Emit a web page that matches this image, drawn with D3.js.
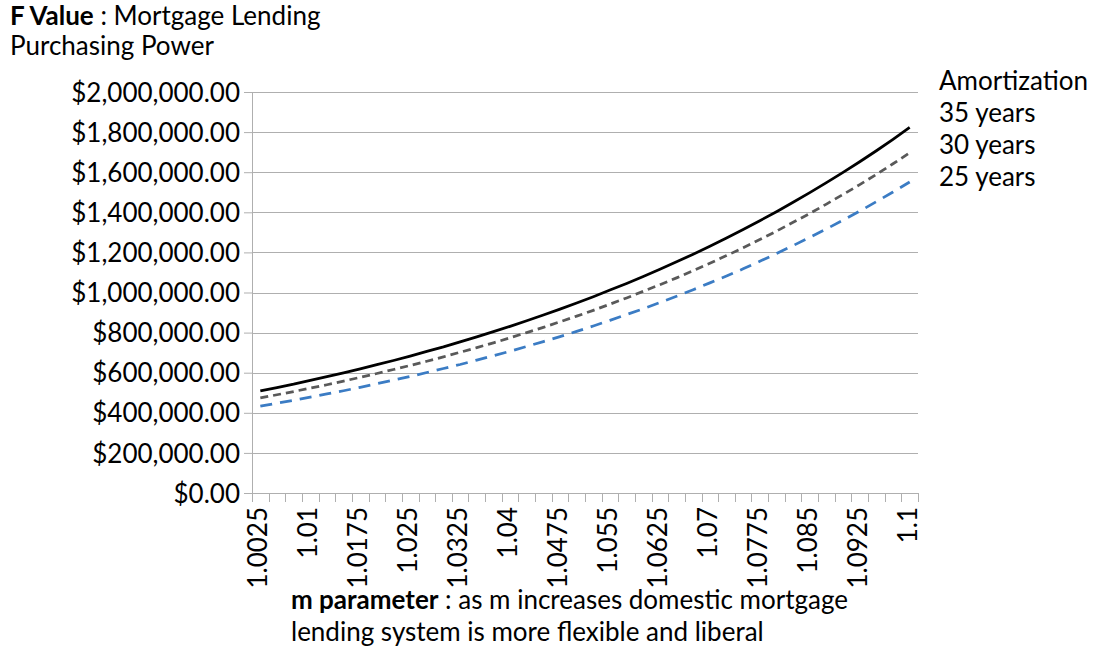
<!DOCTYPE html>
<html>
<head>
<meta charset="utf-8">
<script src="https://cdn.jsdelivr.net/npm/d3@7"></script>
<style>
  body { margin: 0; background: #fff; }
  text { font-family: Lato, "Open Sans", sans-serif; fill: #000; }
</style>
</head>
<body>
<div id="chart"></div>
<script>
// m parameter categories
const mValues = ["1.0025","1.005","1.0075","1.01","1.0125","1.015","1.0175","1.02","1.0225","1.025",
                 "1.0275","1.03","1.0325","1.035","1.0375","1.04","1.0425","1.045","1.0475","1.05",
                 "1.0525","1.055","1.0575","1.06","1.0625","1.065","1.0675","1.07","1.0725","1.075",
                 "1.0775","1.08","1.0825","1.085","1.0875","1.09","1.0925","1.095","1.0975","1.1"];

// F value per amortization period
const years35 = [509000, 526000, 543000, 562000, 580000, 599000, 619000, 640000, 661000, 683000,
                 706000, 729000, 754000, 779000, 805000, 831000, 859000, 888000, 917000, 948000,
                 979000, 1012000, 1045000, 1080000, 1116000, 1153000, 1191000, 1231000, 1272000, 1314000,
                 1358000, 1403000, 1450000, 1498000, 1548000, 1599000, 1652000, 1707000, 1764000, 1823000];
const years30 = [474000, 490000, 506000, 523000, 540000, 558000, 577000, 596000, 616000, 636000,
                 657000, 679000, 702000, 725000, 749000, 774000, 800000, 826000, 854000, 882000,
                 911000, 942000, 973000, 1006000, 1039000, 1073000, 1109000, 1146000, 1184000, 1223000,
                 1264000, 1306000, 1350000, 1394000, 1441000, 1489000, 1538000, 1589000, 1642000, 1697000];
const years25 = [433000, 448000, 462000, 478000, 494000, 510000, 527000, 545000, 563000, 581000,
                 601000, 621000, 641000, 663000, 685000, 707000, 731000, 755000, 780000, 806000,
                 833000, 861000, 890000, 919000, 950000, 981000, 1014000, 1048000, 1082000, 1118000,
                 1156000, 1194000, 1234000, 1275000, 1317000, 1361000, 1406000, 1453000, 1501000, 1551000];

const yTicks = [0, 200000, 400000, 600000, 800000, 1000000, 1200000, 1400000, 1600000, 1800000, 2000000];
const legendLabels = ["Amortization", "35 years", "30 years", "25 years"];

const series = [
    { name: "35 years", values: years35, color: "#000000", dash: null },
    { name: "30 years", values: years30, color: "#595959", dash: "8,5" },
    { name: "25 years", values: years25, color: "#3b7cc4", dash: "12,8" }
];

// chart dimensions
const W = 1093, H = 653;
const margin = { top: 92, right: 175, bottom: 160, left: 252 },
      width = W - margin.left - margin.right,
      height = H - margin.top - margin.bottom;

const fontSize = "26px";

const root = d3.select("#chart").append("svg")
    .attr("width", W)
    .attr("height", H);

const svg = root.append("g")
    .attr("transform", "translate(" + margin.left + "," + margin.top + ")");

// scales
const x = d3.scaleBand().domain(mValues).range([0, width]).padding(0);
const y = d3.scaleLinear().domain([0, 2000000]).range([height, 0]);

const gridColor = "#afafaf";

// horizontal gridlines
svg.append("g")
    .selectAll("line")
    .data(yTicks.filter(d => d > 0))
    .enter()
    .append("line")
    .attr("x1", 0)
    .attr("x2", width)
    .attr("y1", d => Math.round(y(d)) + 0.5)
    .attr("y2", d => Math.round(y(d)) + 0.5)
    .attr("stroke", gridColor)
    .attr("stroke-width", 1);

// y axis
const yAxis = svg.append("g")
    .call(d3.axisLeft(y).tickValues(yTicks).tickSize(8).tickPadding(4).tickFormat(d3.format("$,.2f")));
yAxis.select(".domain").attr("stroke", gridColor).attr("d", `M0.5,${height}V0`);
yAxis.selectAll(".tick line").attr("stroke", gridColor);
yAxis.selectAll(".tick text").style("font-size", fontSize).attr("dy", "0.35em");

// x axis: ticks sit between categories
const xAxisG = svg.append("g").attr("transform", "translate(0," + height + ")");
xAxisG.append("line")
    .attr("x1", -8).attr("x2", width)
    .attr("y1", 0.5).attr("y2", 0.5)
    .attr("stroke", gridColor);
xAxisG.selectAll(".xtick")
    .data(mValues.map(d => x(d)).concat([width]))
    .enter()
    .append("line")
    .attr("class", "xtick")
    .attr("x1", d => Math.round(d) + 0.5)
    .attr("x2", d => Math.round(d) + 0.5)
    .attr("y1", 0)
    .attr("y2", 9)
    .attr("stroke", gridColor);

// labels on every third category
xAxisG.selectAll(".xlabel")
    .data(mValues.filter((d, i) => i % 3 === 0))
    .enter()
    .append("text")
    .attr("class", "xlabel")
    .attr("transform", d => `translate(${x(d) + x.bandwidth() / 2 + 7},14) rotate(-90)`)
    .attr("text-anchor", "end")
    .style("font-size", fontSize)
    .text(d => d);

// lines
const line = d3.line()
    .x((d, i) => x(mValues[i]) + x.bandwidth() / 2)
    .y(d => y(d));

svg.selectAll(".series")
    .data(series)
    .enter()
    .append("path")
    .attr("class", "series")
    .attr("fill", "none")
    .attr("stroke", d => d.color)
    .attr("stroke-width", 2.75)
    .attr("stroke-dasharray", d => d.dash)
    .attr("d", d => line(d.values));

// legend (text only)
root.append("g")
    .selectAll("text")
    .data(legendLabels)
    .enter()
    .append("text")
    .attr("x", 939)
    .attr("y", (d, i) => 90 + i * 32)
    .style("font-size", fontSize)
    .text(d => d);

// y title
const yTitle = root.append("text").attr("x", 10).attr("y", 25).style("font-size", fontSize);
yTitle.append("tspan").style("font-weight", "bold").text("F Value");
yTitle.append("tspan").text(" : Mortgage Lending");
root.append("text").attr("x", 10).attr("y", 55).style("font-size", fontSize).text("Purchasing Power");

// x title
const xTitle = root.append("text").attr("x", 291).attr("y", 609).style("font-size", fontSize);
xTitle.append("tspan").style("font-weight", "bold").text("m parameter");
xTitle.append("tspan").text(" : as m increases domestic mortgage");
root.append("text").attr("x", 291).attr("y", 641).style("font-size", fontSize).text("lending system is more flexible and liberal");
</script>
</body>
</html>
